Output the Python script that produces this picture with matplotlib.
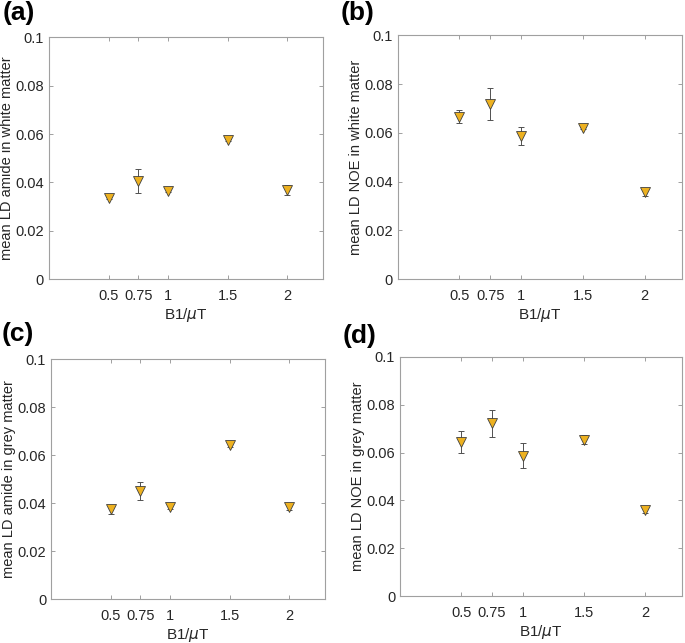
import matplotlib
matplotlib.use("Agg")
import matplotlib.pyplot as plt
import numpy as np

plt.rcParams['font.family'] = ['Liberation Sans', 'DejaVu Sans']

# --- dane ---
b1 = [0.5, 0.75, 1, 1.5, 2]
tick_labels = ['0.5', '0.75', '1', '1.5', '2']

amide_wm = [0.0335, 0.0406, 0.0365, 0.0575, 0.0369]
amide_wm_err = [0.0005, 0.0050, 0.0006, 0.0005, 0.0020]

noe_wm = [0.0666, 0.0718, 0.0587, 0.0621, 0.0356]
noe_wm_err = [0.0027, 0.0067, 0.0037, 0.0005, 0.0017]

amide_gm = [0.0375, 0.0453, 0.0386, 0.0644, 0.0383]
amide_gm_err = [0.0020, 0.0037, 0.0010, 0.0010, 0.0010]

noe_gm = [0.0645, 0.0722, 0.0587, 0.0654, 0.0358]
noe_gm_err = [0.0045, 0.0057, 0.0053, 0.0020, 0.0010]

panels = [
    ('(a)', amide_wm, amide_wm_err, 'mean LD amide in white matter', [0.0715, 0.566, 0.400, 0.376], (0.004, 0.998)),
    ('(b)', noe_wm, noe_wm_err, 'mean LD NOE in white matter', [0.5806, 0.566, 0.4146, 0.379], (0.497, 0.998)),
    ('(c)', amide_gm, amide_gm_err, 'mean LD amide in grey matter', [0.0745, 0.068, 0.400, 0.373], (0.002, 0.500)),
    ('(d)', noe_gm, noe_gm_err, 'mean LD NOE in grey matter', [0.584, 0.073, 0.4117, 0.372], (0.500, 0.496)),
]

fig = plt.figure(figsize=(6.85, 6.43), dpi=100)

for letter, vals, errs, ylabel, pos, lpos in panels:
    ax = fig.add_axes(pos)
    ax.errorbar(b1, vals, yerr=errs, fmt='none', ecolor='#505050',
                elinewidth=0.7, capsize=2, capthick=0.7, zorder=2)
    ax.plot(b1, vals, linestyle='none', marker='v', markersize=6.5,
            markerfacecolor='#EDB120', markeredgecolor='#404040',
            markeredgewidth=0.6, zorder=3)

    ax.set_xlim(0, 2.3)
    ax.set_ylim(0, 0.1)
    ax.set_xticks(b1)
    ax.set_xticklabels(tick_labels)
    ax.set_yticks([0, 0.02, 0.04, 0.06, 0.08, 0.1])
    ax.set_yticklabels(['0', '0.02', '0.04', '0.06', '0.08', '0.1'])
    ax.tick_params(direction='in', length=3, width=0.6, color='#909090',
                   labelsize=10.5, labelcolor='#262626', top=True, right=True)
    ax.tick_params(axis='x', pad=7)
    for s in ax.spines.values():
        s.set_color('#a0a0a0')
        s.set_linewidth(0.8)

    ax.set_xlabel('B1/$\\mu$T', fontsize=11, color='#262626', labelpad=2)
    ax.set_ylabel(ylabel, fontsize=10.5, color='#262626', labelpad=1)

    fig.text(lpos[0], lpos[1], letter, fontsize=19, fontweight='bold',
             ha='left', va='top')

fig.savefig('out.png', dpi=100)
